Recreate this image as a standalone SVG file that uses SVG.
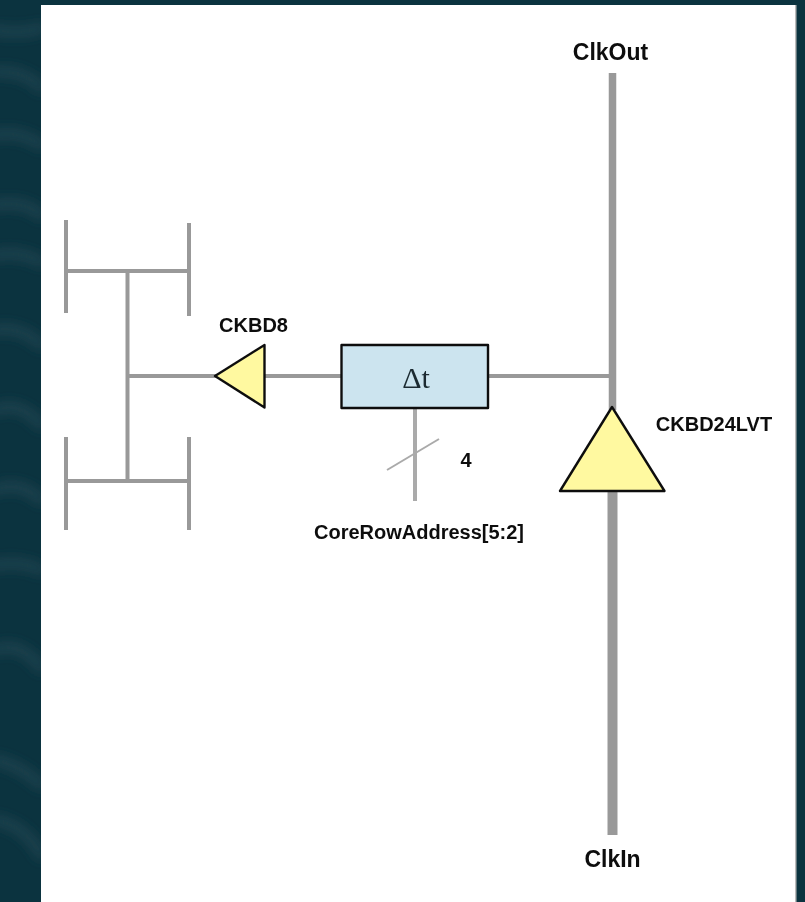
<svg xmlns="http://www.w3.org/2000/svg" width="805" height="902" viewBox="0 0 805 902">
<style>
.w{stroke:#999;fill:none}
.t{font-family:"Liberation Sans",Arial,sans-serif;font-weight:bold;font-size:20px;fill:#111;text-anchor:middle}
.l{font-size:23px}
.b{stroke:#111;stroke-width:2.4;stroke-linejoin:round}
.s{stroke:#2f515c;fill:none;stroke-linecap:round;opacity:.55}
</style>
<defs>
<filter id="bl" x="-20%" y="-20%" width="140%" height="140%"><feGaussianBlur stdDeviation="6"/></filter>
<filter id="soft" filterUnits="userSpaceOnUse" x="41" y="5" width="755" height="897"><feGaussianBlur stdDeviation="0.7"/></filter>
</defs>
<rect width="805" height="902" fill="#0b333f"/>
<g filter="url(#bl)">
<path class="s" stroke-width="10" d="M-5 30Q20 35 41 28M-5 72Q25 70 41 88M-5 135Q20 130 41 145M-5 205Q25 200 41 215M-5 255Q20 250 41 262M-5 330Q20 325 41 345M-5 410Q20 400 41 425M-5 490Q20 480 41 500M-5 565Q20 560 41 570M-5 650Q20 640 41 668M-5 760Q20 765 41 785M-5 820Q25 825 41 855"/>
</g>
<rect x="41" y="5" width="755" height="897" fill="#fff"/>
<rect x="795" y="5" width="1.500" height="897" fill="#bbb"/>
<g filter="url(#soft)">
<g id="connectors" class="w">
<path stroke-width="4" d="M66 220V313M189 223V316M66 271H189M127.500 271V481M66 437V530M189 437V530M66 481H189M127.500 376H216"/>
<path stroke-width="4" d="M264 376H342M488 376H612"/>
<path stroke-width="4" style="stroke:#aaa" d="M415 407V501"/>
<path stroke-width="2" style="stroke:#aaa" d="M387 470L439 439"/>
<path stroke-width="7.500" d="M612.500 73V410"/>
<path stroke-width="10" d="M612.500 490V835"/>
</g>
<g id="CKBD8">
<polygon class="b" points="215,376 264.500,345 264.500,407.500" fill="#fff9a0"/>
<text class="t" x="253.500" y="332">CKBD8</text>
</g>
<g id="delay">
<rect class="b" x="341.500" y="345" width="146.500" height="63" fill="#cce4ef"/>
<text x="416" y="388" font-family="Liberation Serif,serif" font-size="30" fill="#1a2a30" text-anchor="middle">Δt</text>
</g>
<g id="CKBD24LVT">
<polygon class="b" points="612,407 664.500,491 560,491" fill="#fff9a0"/>
<text class="t" x="714" y="431">CKBD24LVT</text>
</g>
<text class="t" x="466" y="467">4</text>
<text class="t" x="419" y="539">CoreRowAddress[5:2]</text>
<text class="t l" x="610.500" y="59.500">ClkOut</text>
<text class="t l" x="612.500" y="867">ClkIn</text>
</g>
</svg>
